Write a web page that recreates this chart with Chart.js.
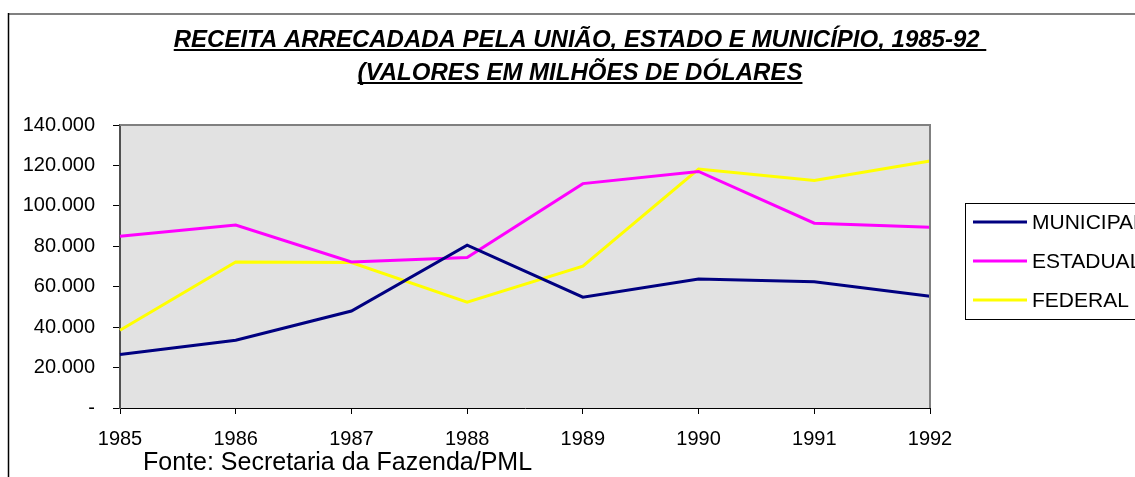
<!DOCTYPE html>
<html>
<head>
<meta charset="utf-8">
<script src="https://cdn.jsdelivr.net/npm/chart.js@4"></script>
<style>
  body { margin: 0; background: #fff; }
  #wrap { width: 1135px; height: 477px; }
</style>
</head>
<body>
<div id="wrap"><canvas id="myChart" width="1135" height="477"></canvas></div>
<script>
const years = ['1985', '1986', '1987', '1988', '1989', '1990', '1991', '1992'];
const municipal = [26500, 33500, 48000, 80600, 54800, 63800, 62500, 55300];
const estadual = [85000, 90500, 72200, 74500, 111000, 117000, 91400, 89400];
const federal = [38500, 72200, 72000, 52300, 70200, 118200, 112600, 122200];
const yTickLabels = ['-', '20.000', '40.000', '60.000', '80.000', '100.000', '120.000', '140.000'];
const titleLines = ['RECEITA ARRECADADA PELA UNIÃO, ESTADO E MUNICÍPIO, 1985-92 ', '(VALORES EM MILHÕES DE DÓLARES'];
const sourceText = 'Fonte: Secretaria da Fazenda/PML';

const FONT = '"Liberation Sans", Arial, sans-serif';

const decor = {
    id: 'decor',
    beforeDraw(chart) {
        const c = chart.ctx, a = chart.chartArea;
        c.save();
        c.fillStyle = '#fff';
        c.fillRect(0, 0, chart.width, chart.height);
        c.fillStyle = '#e2e2e2';
        c.fillRect(a.left, a.top, a.right - a.left, a.bottom - a.top);
        c.restore();
    },
    afterDraw(chart) {
        const c = chart.ctx, a = chart.chartArea;
        c.save();
        // plot frame (top + right)
        c.strokeStyle = '#808080';
        c.lineWidth = 2;
        c.beginPath();
        c.moveTo(a.left, a.top);
        c.lineTo(a.right, a.top);
        c.lineTo(a.right, a.bottom);
        c.stroke();

        // outer chart border
        c.beginPath();
        c.moveTo(8, 14);
        c.lineTo(chart.width, 14);
        c.stroke();
        c.strokeStyle = '#000';
        c.lineWidth = 1.5;
        c.beginPath();
        c.moveTo(8.5, 13);
        c.lineTo(8.5, chart.height);
        c.stroke();

        // title, underlined
        c.fillStyle = '#000';
        c.font = 'italic bold 24px ' + FONT;
        c.textAlign = 'center';
        c.textBaseline = 'alphabetic';
        const cx = 580;
        [47, 80].forEach((y, i) => {
            const t = titleLines[i];
            c.fillText(t, cx, y);
            const w = c.measureText(t).width;
            c.fillRect(cx - w / 2, y + 2, w, 2);
        });

        // legend
        c.strokeStyle = '#000';
        c.lineWidth = 1;
        c.strokeRect(965.5, 203.5, 200, 116);
        c.font = '21px ' + FONT;
        c.textAlign = 'left';
        c.textBaseline = 'middle';
        chart.data.datasets.forEach((ds, i) => {
            const y = 222 + i * 39;
            c.strokeStyle = ds.borderColor;
            c.lineWidth = 3;
            c.beginPath();
            c.moveTo(973, y);
            c.lineTo(1027, y);
            c.stroke();
            c.fillStyle = '#000';
            c.fillText(ds.label, 1032, y + 1);
        });

        // source note
        c.font = '25px ' + FONT;
        c.textBaseline = 'alphabetic';
        c.fillText(sourceText, 143, 470);
        c.restore();
    }
};

new Chart(document.getElementById('myChart'), {
    type: 'line',
    data: {
        labels: years,
        datasets: [
            { label: 'MUNICIPAL', data: municipal, borderColor: '#000080' },
            { label: 'ESTADUAL', data: estadual, borderColor: '#ff00ff' },
            { label: 'FEDERAL', data: federal, borderColor: '#ffff00' }
        ]
    },
    options: {
        responsive: false,
        animation: false,
        layout: { padding: { top: 125, right: 205, left: 0, bottom: 0 } },
        elements: {
            line: { borderWidth: 3, tension: 0 },
            point: { radius: 0 }
        },
        plugins: {
            legend: { display: false },
            title: { display: false },
            tooltip: { enabled: false }
        },
        scales: {
            x: {
                offset: false,
                afterFit(s) { s.height = 69; },
                border: { color: '#000', width: 1 },
                grid: { drawOnChartArea: false, tickLength: 6, color: '#000', offset: false },
                ticks: { color: '#000', font: { family: FONT, size: 20 }, padding: 13, maxRotation: 0, autoSkip: false }
            },
            y: {
                min: 0,
                max: 140000,
                afterFit(s) { s.width = 120; },
                border: { color: '#505050', width: 2 },
                grid: { drawOnChartArea: false, tickLength: 7, color: '#000' },
                ticks: {
                    stepSize: 20000,
                    color: '#000',
                    padding: 18,
                    font: { family: FONT, size: 20 },
                    callback: (v, i) => yTickLabels[i]
                }
            }
        }
    },
    plugins: [decor]
});
</script>
</body>
</html>
